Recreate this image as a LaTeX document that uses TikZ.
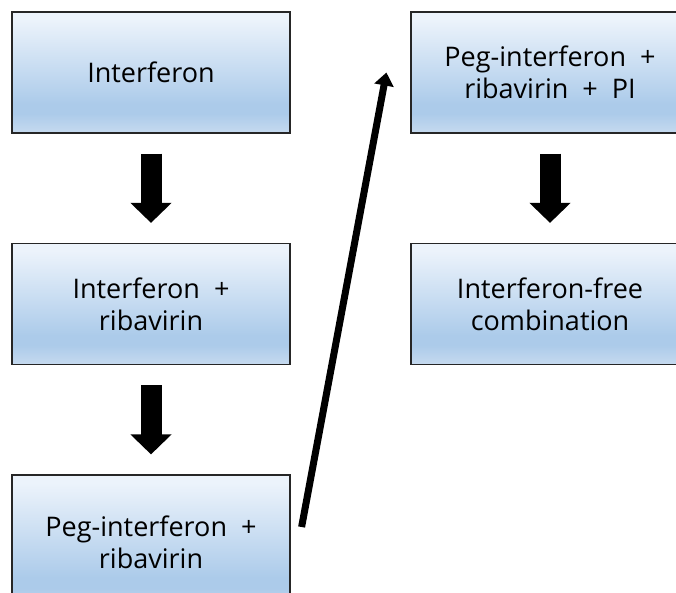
\documentclass[tikz,border=0pt]{standalone}
\usepackage{fontspec}
\setmainfont{Open Sans}
\usepackage{xcolor}
\usepackage{tikz}
\usetikzlibrary{arrows.meta}

\definecolor{boxtop}{RGB}{236,243,251}
\definecolor{boxmid}{RGB}{172,203,234}
\definecolor{boxlow}{RGB}{198,218,239}
% box is mapped onto 25bp..75bp of the shading
\pgfdeclareverticalshading{stagefill}{100bp}{color(0bp)=(boxlow); color(25bp)=(boxlow);
  color(33bp)=(boxmid); color(37bp)=(boxmid); color(72bp)=(boxtop); color(100bp)=(boxtop)}

\begin{document}
\begin{tikzpicture}[x=1pt,y=1pt,
  stage/.style={draw=black!85,line width=1.2pt,shading=stagefill,minimum width=278pt,
    minimum height=121pt,inner sep=0pt,align=center,font=\fontsize{27}{32}\selectfont},
  blockarrow/.style={line width=21pt,-{Triangle[width=40pt,length=20pt]},shorten <=20pt,shorten >=20pt},
  leap/.style={line width=7pt,-{Triangle[width=19pt,length=13pt]}}]
 \useasboundingbox (0,0) rectangle (676,592);
 \clip (0,0) rectangle (676,592);
 % left column
 \node[stage] (ifn) at (151,519.5) {Interferon};
 \node[stage] (ifnrbv) at (151,288) {Interferon \ +\\ribavirin};
 \node[stage,minimum height=135pt] (peg) at (151,49.5) {Peg-interferon \ +\\ribavirin};
 % right column
 \node[stage] (pegpi) at (550,519.5) {Peg-interferon \ +\\ribavirin \ + \ PI};
 \node[stage] (free) at (550,288) {Interferon-free\\combination};
 \draw[blockarrow] (ifn) -- (ifnrbv);
 \draw[blockarrow] (ifnrbv) -- (peg);
 \draw[blockarrow] (pegpi) -- (free);
 \draw[leap] ([xshift=11pt,yshift=15.5pt]peg.east) -- ([xshift=-24pt]pegpi.west);
\end{tikzpicture}
\end{document}
